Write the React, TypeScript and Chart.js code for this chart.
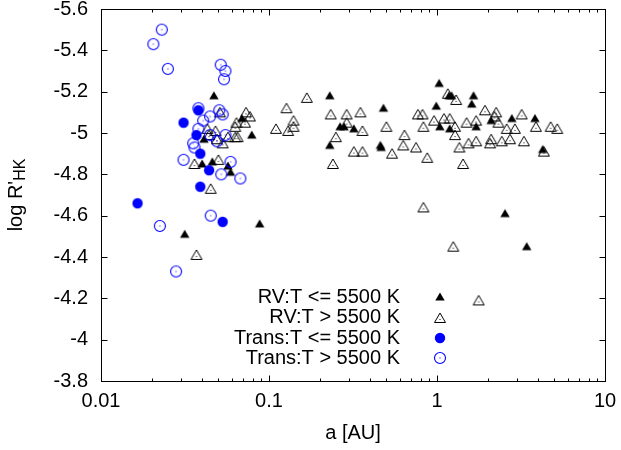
import React, { useEffect, useRef } from 'react';
import { Chart, registerables } from 'chart.js';

Chart.register(...registerables);

const FONT = '"Liberation Sans", Arial, Helvetica, sans-serif';
const BLUE = '#0000ff';

// [a (AU), log R'HK]
const rvCool: [number, number][] = [
  [0.047, -5.18], [0.069, -5.07], [0.079, -4.99], [0.041, -4.97], [0.04, -4.85],
  [0.046, -4.86], [0.057, -4.84], [0.059, -4.81], [0.0315, -4.51], [0.088, -4.56],
  [0.23, -5.18], [0.265, -5.03], [0.28, -5.03], [0.32, -5.02], [0.23, -4.94],
  [0.48, -5.12], [0.46, -4.94], [0.465, -4.93], [1.03, -5.24], [1.18, -5.18],
  [1.22, -5.18], [1.65, -5.18], [1.61, -5.14], [0.99, -5.13], [1.04, -5.03],
  [1.19, -5.02], [1.71, -5.03], [2.1, -5.06], [2.79, -5.07], [3.83, -5.07],
  [4.26, -4.92], [2.54, -4.61], [3.42, -4.45],
];

const rvHot: [number, number][] = [
  [0.051, -5.1], [0.073, -5.1], [0.077, -5.08], [0.064, -5.05], [0.072, -5.05],
  [0.063, -5.03], [0.043, -5.02], [0.048, -5.01], [0.044, -4.99], [0.049, -4.97],
  [0.053, -4.95], [0.057, -4.98], [0.063, -4.98], [0.065, -4.98], [0.036, -4.85],
  [0.05, -4.87], [0.045, -4.73], [0.037, -4.41], [0.11, -5.02], [0.168, -5.17],
  [0.127, -5.12], [0.14, -5.06], [0.13, -5.01], [0.14, -5.03], [0.233, -5.09],
  [0.29, -5.09], [0.35, -5.1], [0.29, -5.05], [0.36, -5.01], [0.25, -4.98],
  [0.24, -4.85], [0.32, -4.91], [0.36, -4.91], [0.5, -5.03], [0.54, -4.9],
  [0.64, -4.99], [0.63, -4.94], [0.75, -4.93], [0.875, -4.88], [0.77, -5.09],
  [0.82, -5.09], [0.83, -5.03], [0.96, -5.06], [1.3, -5.16], [1.16, -5.19],
  [1.1, -5.07], [1.19, -5.07], [1.28, -5.03], [1.28, -4.99], [1.36, -4.93],
  [1.54, -4.95], [1.71, -4.96], [1.5, -5.05], [1.71, -5.06], [1.93, -5.11],
  [2.25, -5.1], [2.2, -5.08], [2.32, -5.05], [2.1, -4.97], [2.07, -4.95],
  [2.43, -4.96], [2.72, -4.97], [2.6, -5.02], [2.91, -5.02], [3.19, -5.09],
  [3.29, -4.96], [3.88, -5.03], [4.75, -5.03], [5.2, -5.02], [4.33, -4.91],
  [1.43, -4.85], [0.83, -4.64], [1.25, -4.45], [1.77, -4.19],
];

const transCool: [number, number][] = [
  [0.031, -5.05], [0.038, -5.11], [0.037, -4.99], [0.039, -4.9],
  [0.044, -4.82], [0.039, -4.74], [0.0165, -4.66], [0.053, -4.57],
];

const transHot: [number, number][] = [
  [0.023, -5.5], [0.0205, -5.43], [0.025, -5.31], [0.0516, -5.33], [0.055, -5.3],
  [0.054, -5.26], [0.038, -5.12], [0.0446, -5.08], [0.0506, -5.11], [0.053, -5.09],
  [0.0406, -5.06], [0.038, -5.02], [0.0446, -4.99], [0.055, -4.99], [0.049, -4.96],
  [0.0354, -4.95], [0.036, -4.93], [0.031, -4.87], [0.059, -4.86], [0.052, -4.8],
  [0.0675, -4.78], [0.0224, -4.55], [0.045, -4.6], [0.028, -4.33],
];

const xMajorTicks = [0.01, 0.1, 1, 10];
const xMinorSteps = [2, 3, 4, 5, 6, 7, 8, 9];
const yTicks = [-5.6, -5.4, -5.2, -5, -4.8, -4.6, -4.4, -4.2, -4, -3.8];

const legendLabels = ['RV:T <= 5500 K', 'RV:T > 5500 K', 'Trans:T <= 5500 K', 'Trans:T > 5500 K'];
const legendKinds = ['filledTri', 'openTri', 'filledCircle', 'openCircle'];

// point glyphs drawn once on small canvases
const makeMarker = (kind: string) => {
  const c = document.createElement('canvas');
  c.width = 16;
  c.height = 16;
  const g = c.getContext('2d')!;
  if (kind === 'filledTri') {
    g.fillStyle = '#000';
    g.beginPath();
    g.moveTo(8, 3.5);
    g.lineTo(3.3, 11.5);
    g.lineTo(12.7, 11.5);
    g.closePath();
    g.fill();
  } else if (kind === 'openTri') {
    g.strokeStyle = '#000';
    g.lineWidth = 1;
    g.beginPath();
    g.moveTo(8, 3);
    g.lineTo(2.5, 12.5);
    g.lineTo(13.5, 12.5);
    g.closePath();
    g.stroke();
    g.fillStyle = '#000';
    g.fillRect(7.5, 9, 1, 1);
  } else if (kind === 'filledCircle') {
    g.fillStyle = BLUE;
    g.beginPath();
    g.arc(8, 8, 5.2, 0, Math.PI * 2);
    g.fill();
  } else {
    g.strokeStyle = BLUE;
    g.lineWidth = 1.1;
    g.beginPath();
    g.arc(8, 8, 5.5, 0, Math.PI * 2);
    g.stroke();
    g.fillStyle = BLUE;
    g.fillRect(7.5, 7.5, 1, 1);
  }
  return c;
};

const toPoints = (arr: [number, number][]) => arr.map(([x, y]) => ({ x, y }));

const App: React.FC = () => {
  const canvasRef = useRef<HTMLCanvasElement | null>(null);
  const chartRef = useRef<Chart | null>(null);

  useEffect(() => {
    if (!canvasRef.current) return;
    if (chartRef.current) chartRef.current.destroy();

    const markers: Record<string, HTMLCanvasElement> = {};
    legendKinds.forEach(k => { markers[k] = makeMarker(k); });

    // box, inward ticks, legend and axis titles
    const decorations = {
      id: 'decorations',
      afterDraw(chart: any) {
        const { ctx, chartArea } = chart;
        const xs = chart.scales.x;
        const ys = chart.scales.y;
        const L = Math.round(chartArea.left) + 0.5;
        const R = Math.round(chartArea.right) + 0.5;
        const T = Math.round(chartArea.top) + 0.5;
        const B = Math.round(chartArea.bottom) + 0.5;
        ctx.save();
        ctx.strokeStyle = '#000';
        ctx.lineWidth = 1;
        ctx.strokeRect(L, T, R - L, B - T);

        ctx.beginPath();
        xMajorTicks.forEach(d => {
          [1, ...xMinorSteps].forEach(k => {
            const v = d * k;
            if (v > 10.0001) return;
            const px = Math.round(xs.getPixelForValue(v)) + 0.5;
            const len = k === 1 ? 6 : 3;
            ctx.moveTo(px, B); ctx.lineTo(px, B - len);
            ctx.moveTo(px, T); ctx.lineTo(px, T + len);
          });
        });
        yTicks.forEach(v => {
          const py = Math.round(ys.getPixelForValue(v)) + 0.5;
          ctx.moveTo(L, py); ctx.lineTo(L + 6, py);
          ctx.moveTo(R, py); ctx.lineTo(R - 6, py);
        });
        ctx.stroke();

        // legend
        const rows = [297, 317.5, 338, 358];
        ctx.font = `20px ${FONT}`;
        ctx.fillStyle = '#000';
        ctx.textAlign = 'right';
        ctx.textBaseline = 'middle';
        legendLabels.forEach((label, i) => {
          ctx.fillText(label, 400, rows[i]);
          ctx.drawImage(markers[legendKinds[i]], 432, Math.round(rows[i]) - 8);
        });

        // x title
        ctx.textAlign = 'center';
        ctx.fillText('a [AU]', 353, 433);

        // y title with subscript
        ctx.translate(16, 195);
        ctx.rotate(-Math.PI / 2);
        ctx.textAlign = 'left';
        const main = "log R'";
        ctx.font = `20px ${FONT}`;
        const w1 = ctx.measureText(main).width;
        ctx.font = `16px ${FONT}`;
        const w2 = ctx.measureText('HK').width;
        const x0 = -(w1 + w2) / 2;
        ctx.font = `20px ${FONT}`;
        ctx.fillText(main, x0, 0);
        ctx.font = `16px ${FONT}`;
        ctx.fillText('HK', x0 + w1, 5);
        ctx.restore();
      },
    };

    const tickFont = { family: FONT, size: 20 };

    chartRef.current = new Chart(canvasRef.current, {
      type: 'scatter',
      data: {
        datasets: [
          { label: legendLabels[3], data: toPoints(transHot), pointStyle: markers.openCircle as any, pointRadius: 5 },
          { label: legendLabels[2], data: toPoints(transCool), pointStyle: markers.filledCircle as any, pointRadius: 5 },
          { label: legendLabels[1], data: toPoints(rvHot), pointStyle: markers.openTri as any, pointRadius: 5 },
          { label: legendLabels[0], data: toPoints(rvCool), pointStyle: markers.filledTri as any, pointRadius: 5 },
        ],
      },
      options: {
        animation: false,
        responsive: true,
        maintainAspectRatio: false,
        layout: { padding: { top: 9, right: 16, left: 0, bottom: 0 } },
        plugins: {
          legend: { display: false },
          tooltip: { enabled: false },
        },
        scales: {
          x: {
            type: 'logarithmic',
            min: 0.01,
            max: 10,
            grid: { display: false, drawTicks: false },
            border: { display: false },
            afterBuildTicks: (s: any) => { s.ticks = xMajorTicks.map(v => ({ value: v })); },
            afterFit: (s: any) => {
              s.height = 69;
              s.paddingLeft = 0;
              s.paddingRight = 0;
              s.paddingTop = 0;
              s.paddingBottom = 0;
            },
            ticks: {
              font: tickFont,
              color: '#000',
              padding: 8,
              maxRotation: 0,
              autoSkip: false,
              callback: (v: any) => String(v),
            },
          },
          y: {
            type: 'linear',
            reverse: true,
            min: -5.6,
            max: -3.8,
            grid: { display: false, drawTicks: false },
            border: { display: false },
            afterBuildTicks: (s: any) => { s.ticks = yTicks.map(v => ({ value: v })); },
            afterFit: (s: any) => {
              s.width = 101;
              s.paddingLeft = 0;
              s.paddingRight = 0;
              s.paddingTop = 0;
              s.paddingBottom = 0;
            },
            ticks: {
              font: tickFont,
              color: '#000',
              padding: 13,
              callback: (v: any) => String(Number(Number(v).toFixed(1))),
            },
          },
        },
      },
      plugins: [decorations],
    });

    return () => {
      if (chartRef.current) {
        chartRef.current.destroy();
        chartRef.current = null;
      }
    };
  }, []);

  return (
    <div style={{ position: 'absolute', left: 0, top: 0, width: 621, height: 450, background: '#fff' }}>
      <canvas ref={canvasRef}></canvas>
    </div>
  );
};

export default App;
